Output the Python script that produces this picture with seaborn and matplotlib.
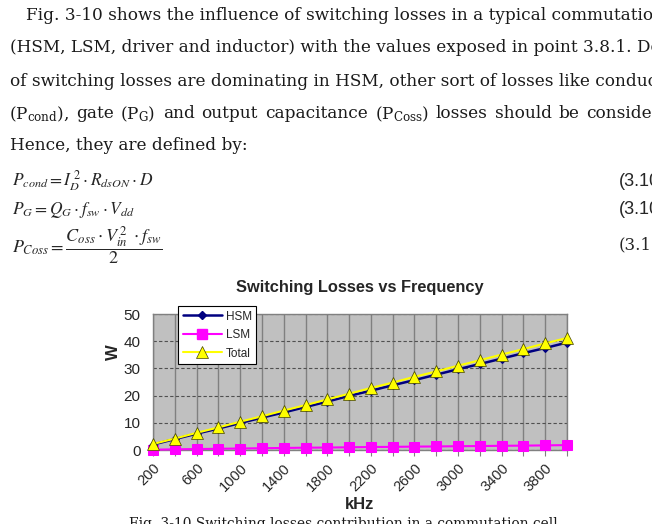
import matplotlib
matplotlib.use("Agg")
import matplotlib.pyplot as plt
import seaborn as sns
import pandas as pd
from matplotlib.lines import Line2D

# ---------------- data ----------------
freq_khz = [200, 400, 600, 800, 1000, 1200, 1400, 1600, 1800, 2000,
            2200, 2400, 2600, 2800, 3000, 3200, 3400, 3600, 3800, 4000]
hsm = [2.0, 4.0, 6.0, 7.9, 9.9, 11.9, 13.8, 15.8, 17.8, 19.9,
       21.8, 23.8, 25.7, 27.7, 29.7, 31.6, 33.6, 35.6, 37.5, 39.5]
lsm = [0.1, 0.25, 0.35, 0.45, 0.55, 0.65, 0.75, 0.85, 0.9, 1.0,
       1.1, 1.15, 1.25, 1.3, 1.4, 1.45, 1.55, 1.6, 1.7, 1.8]
total = [2.2, 4.2, 6.3, 8.3, 10.4, 12.4, 14.5, 16.5, 18.6, 20.7,
         22.8, 24.8, 26.9, 28.9, 31.0, 33.0, 35.1, 37.1, 39.2, 41.2]
x_tick_labels = ["200", "", "600", "", "1000", "", "1400", "", "1800", "",
                 "2200", "", "2600", "", "3000", "", "3400", "", "3800", ""]
y_ticks = [0, 10, 20, 30, 40, 50]

sns.set_theme(style="white")
plt.rcParams["font.family"] = ["Liberation Sans", "DejaVu Sans"]

W_PX, H_PX = 652, 524
fig = plt.figure(figsize=(6.52, 5.24), dpi=100)
fig.patch.set_facecolor("white")
renderer = fig.canvas.get_renderer()

# ---------------- document text ----------------
serif = ["DejaVu Serif"]
tsize = 12.2
tcol = "#1a1a1a"
fig.text(26 / W_PX, 1 - 15 / H_PX,
         "Fig. 3-10 shows the influence of switching losses in a typical commutation",
         family=serif, fontsize=tsize, va="center", ha="left", color=tcol)
fig.text(10 / W_PX, 1 - 48 / H_PX,
         "(HSM, LSM, driver and inductor) with the values exposed in point 3.8.1. Despite",
         family=serif, fontsize=tsize, va="center", ha="left", color=tcol)
fig.text(10 / W_PX, 1 - 81 / H_PX,
         "of switching losses are dominating in HSM, other sort of losses like conduction",
         family=serif, fontsize=tsize, va="center", ha="left", color=tcol)

# justified line with subscripts
line4_words = [r"(P$_{\rm cond}$),", "gate", r"(P$_{\rm G}$)", "and", "output",
               "capacitance", r"(P$_{\rm Coss}$)", "losses", "should", "be",
               "considered."]
kw4 = dict(family=serif, fontsize=tsize, va="center", ha="left", color=tcol,
           math_fontfamily="dejavuserif")
y4 = 1 - 114 / H_PX
texts4 = [fig.text(0, y4, w, **kw4) for w in line4_words]
widths = [t.get_window_extent(renderer).width for t in texts4]
probe = fig.text(0, y4, "conside", **kw4)
w_probe = probe.get_window_extent(renderer).width
probe.remove()
x_start = 9.0
x_last = W_PX - w_probe
gap = (x_last - x_start - sum(widths[:-1])) / (len(widths) - 1)
xc = x_start
for t, w in zip(texts4, widths):
    t.set_x(xc / W_PX)
    xc += w + gap

fig.text(10 / W_PX, 1 - 146 / H_PX, "Hence, they are defined by:",
         family=serif, fontsize=tsize, va="center", ha="left", color=tcol)

esize = 12.5
fig.text(12 / W_PX, 1 - 181 / H_PX, r"$P_{cond} = I_D^{\,2} \cdot R_{dsON} \cdot D$",
         fontsize=esize, va="center", ha="left", math_fontfamily="stix")
fig.text(12 / W_PX, 1 - 210 / H_PX, r"$P_G = Q_G \cdot f_{sw} \cdot V_{dd}$",
         fontsize=esize, va="center", ha="left", math_fontfamily="stix")
fig.text(12 / W_PX, 1 - 246 / H_PX,
         r"$P_{Coss} = \dfrac{C_{oss} \cdot V_{in}^{\,2}\ \cdot f_{sw}}{2}$",
         fontsize=esize + 0.5, va="center", ha="left", math_fontfamily="stix")
for yy in (181, 210):
    fig.text(619 / W_PX, 1 - yy / H_PX, "(3.10)", fontsize=13, va="center", ha="left")
fig.text(619 / W_PX, 1 - 245 / H_PX, "(3.10)", family=serif, fontsize=12,
         va="center", ha="left")

# ---------------- chart ----------------
ax = fig.add_axes([153 / W_PX, 1 - 450 / H_PX, (567 - 153) / W_PX, (450 - 314) / H_PX])
ax.set_facecolor("#c0c0c0")

df_h = pd.DataFrame({"kHz": freq_khz, "W": hsm})
df_l = pd.DataFrame({"kHz": freq_khz, "W": lsm})
df_t = pd.DataFrame({"kHz": freq_khz, "W": total})

sns.lineplot(data=df_l, x="kHz", y="W", ax=ax, color="#ff00ff", lw=1.5,
             marker="s", markersize=7, markeredgecolor="#ff00ff", zorder=3)
sns.lineplot(data=df_h, x="kHz", y="W", ax=ax, color="#000080", lw=1.8,
             marker="D", markersize=4.5, markeredgecolor="#000080", zorder=4)
sns.lineplot(data=df_t, x="kHz", y="W", ax=ax, color="#ffff00", lw=1.5,
             marker="^", markersize=8, markeredgecolor="#404000",
             markeredgewidth=0.5, zorder=5)
for ln in ax.lines:
    ln.set_clip_on(False)

ax.set_xlim(freq_khz[0], freq_khz[-1])
ax.set_ylim(0, 50)
ax.set_xticks(freq_khz)
ax.set_xticklabels(x_tick_labels, rotation=45, ha="right", va="top",
                   rotation_mode="anchor", fontsize=10.5)
ax.set_yticks(y_ticks)
ax.set_yticklabels([str(v) for v in y_ticks], fontsize=11)
ax.tick_params(axis="x", direction="out", length=4, width=0.8, color="#808080",
               pad=4, bottom=True)
ax.tick_params(axis="y", length=0, pad=9)

ax.xaxis.grid(True, color="#808080", lw=1, ls="-")
ax.yaxis.grid(True, color="#505050", lw=0.8, ls=(0, (3, 2)))
ax.set_axisbelow(True)
for s in ax.spines.values():
    s.set_color("#808080")
    s.set_linewidth(1)

ax.set_xlabel("kHz", fontsize=12, fontweight="bold")
ax.xaxis.set_label_coords(0.5, (450 - 497) / 136)
ax.set_ylabel("W", fontsize=12, fontweight="bold")
ax.yaxis.set_label_coords((121 - 153) / 414, (450 - 352) / 136)
ax.set_title("Switching Losses vs Frequency", fontsize=11.8, fontweight="bold", pad=16)

handles = [
    Line2D([], [], color="#000080", lw=1.8, marker="D", markersize=4.5),
    Line2D([], [], color="#ff00ff", lw=1.5, marker="s", markersize=7),
    Line2D([], [], color="#ffff00", lw=1.5, marker="^", markersize=8,
           markeredgecolor="#404000", markeredgewidth=0.5),
]
leg = ax.legend(handles, ["HSM", "LSM", "Total"], loc="upper left",
                bbox_to_anchor=(0.06, 1.06), borderaxespad=0, fontsize=8.5,
                frameon=True, fancybox=False, framealpha=1, edgecolor="#000000",
                handlelength=3.3, handletextpad=0.35, labelspacing=0.55,
                borderpad=0.4)
leg.get_frame().set_linewidth(0.8)
leg.set_zorder(10)

fig.text(343 / W_PX, 1 - 524 / H_PX,
         "Fig. 3-10 Switching losses contribution in a commutation cell",
         family=serif, fontsize=9.9, ha="center", va="center", color=tcol)

fig.savefig("out.png", dpi=100, facecolor="white")
